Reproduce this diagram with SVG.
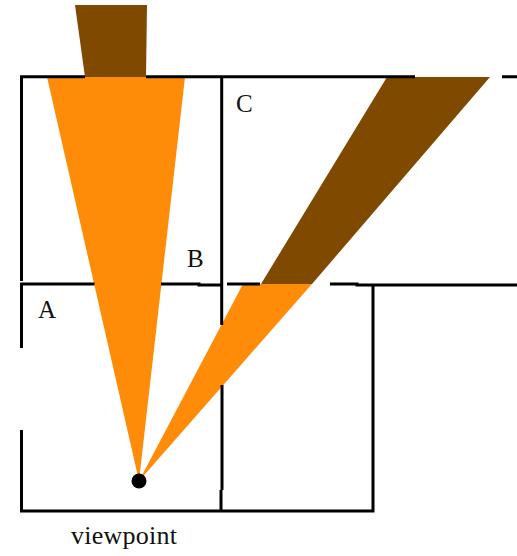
<svg xmlns="http://www.w3.org/2000/svg" width="517" height="556" viewBox="0 0 517 556">
<style>
.w{stroke:#000;stroke-width:3;fill:none}
.o{fill:#ff8c08}
.b{fill:#804900}
text{font-family:"Liberation Serif","Times New Roman",serif;fill:#111}
</style>
<rect width="517" height="556" fill="#fff"/>
<polygon class="b" points="75,5 147,5 146,77 85,77"/>
<polygon class="b" points="387,77 490,77 312,284 261,284"/>
<polygon class="o" points="47,77 185,77 139,481"/>
<polygon class="o" points="243,284 312,284 139,481"/>
<path class="w" d="M85 76.700H21.500V281M146 76.700H415M502 76.700H517M221.700 76.700V325M222 385V490M221 490V511M20 284H94.500M161 284H199V285H221M227 284H260M330 284H357V285H517M21.500 283V348M21.500 430V511M20 511H374.500M373 284V511"/>
<circle cx="139" cy="481" r="7.500" fill="#000"/>
<text x="38" y="318" font-size="25">A</text>
<text x="187" y="267" font-size="25">B</text>
<text x="236" y="112" font-size="25">C</text>
<text x="71" y="544" font-size="26" textLength="106">viewpoint</text>
</svg>
